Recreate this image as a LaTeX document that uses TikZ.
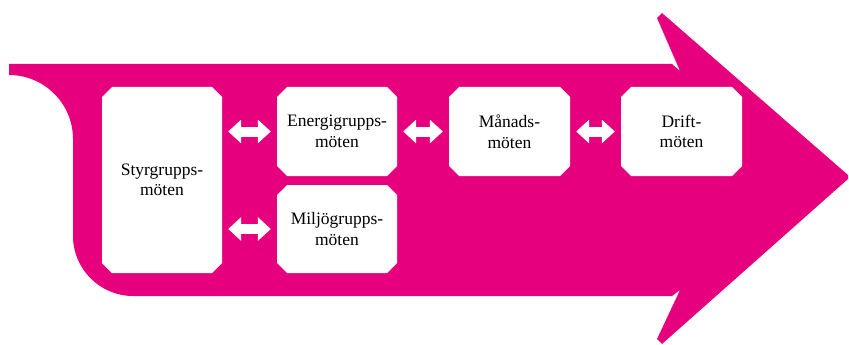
\documentclass[tikz,border=0pt]{standalone}
\usepackage{fontspec}
\setmainfont{Liberation Serif}
\usetikzlibrary{shapes.misc,arrows.meta}
\definecolor{mag}{RGB}{230,0,126}
\begin{document}
\begin{tikzpicture}[x=1pt,y=-1pt,
  box/.style={chamfered rectangle, chamfered rectangle xsep=5pt, chamfered rectangle ysep=5pt,
    fill=white, draw=none, inner sep=0pt, align=center,
    font=\fontsize{17.5}{20.5}\selectfont},
  dbl/.style={white, line width=10pt,
    {Triangle[width=23pt,length=13pt]}-{Triangle[width=23pt,length=13pt]},
    shorten <=6pt, shorten >=6pt}]
\useasboundingbox (0,0) rectangle (849,345);
% big arrow
\fill[mag] (9,64) -- (672,64) -- (680,71) -- (657,18) -- (662,13) -- (848,175)
  -- (848,179) -- (662,344) -- (657,339) -- (680,290) -- (672,296) -- (133,296)
  .. controls (100,296) and (73,269) .. (73,236) -- (73,139)
  .. controls (73,103.7) and (44.3,75) .. (9,75) -- cycle;
% boxes
\node[box, minimum width=120pt, minimum height=186pt] (styr) at (162,180) {Styrgrupps-\\möten};
\node[box, minimum width=120pt, minimum height=89pt] (energi) at (337,131.5) {Energigrupps-\\möten};
\node[box, minimum width=120pt, minimum height=88pt] (miljo) at (337,229) {Miljögrupps-\\möten};
\node[box, minimum width=121pt, minimum height=89pt] (manad) at (509.5,131.5) {Månads-\\möten};
\node[box, minimum width=121pt, minimum height=89pt] (drift) at (681.5,131.5) {Drift-\\möten};
% double arrows
\draw[dbl] (styr.east |- energi.west) -- (energi.west);
\draw[dbl] (styr.east |- miljo.west) -- (miljo.west);
\draw[dbl] (energi.east) -- (manad.west);
\draw[dbl] (manad.east) -- (drift.west);
\end{tikzpicture}
\end{document}
